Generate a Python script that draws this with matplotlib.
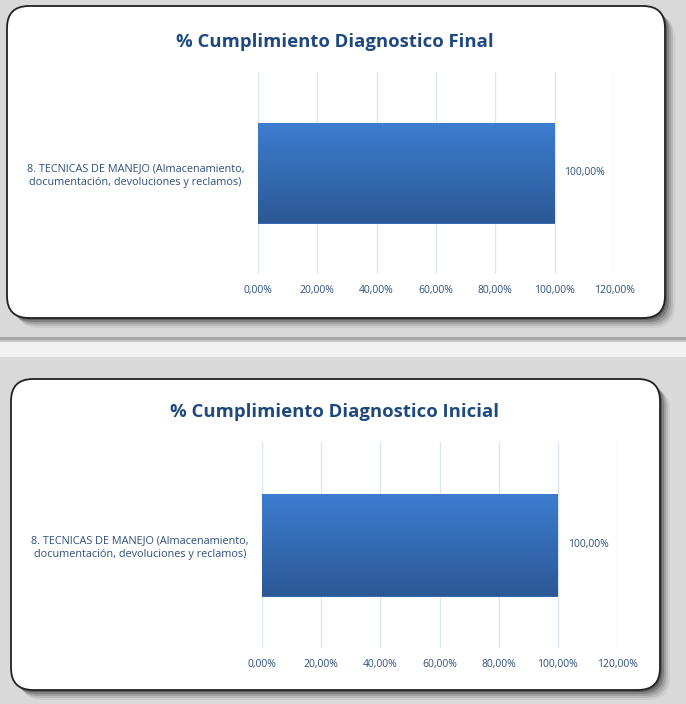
import matplotlib
matplotlib.use("Agg")
import matplotlib.pyplot as plt
import numpy as np
from matplotlib.patches import FancyBboxPatch, Rectangle
from matplotlib.colors import LinearSegmentedColormap

W, H = 686, 704

categories = ["8. TECNICAS DE MANEJO (Almacenamiento,\ndocumentación, devoluciones y reclamos)"]
final_values = [1.0]
initial_values = [1.0]
value_labels_final = ["100,00%"]
value_labels_initial = ["100,00%"]
titles = ["% Cumplimiento Diagnostico Final", "% Cumplimiento Diagnostico Inicial"]
xticks = [0.0, 0.2, 0.4, 0.6, 0.8, 1.0, 1.2]
xtick_labels = ["0,00%", "20,00%", "40,00%", "60,00%", "80,00%", "100,00%", "120,00%"]

TXT = "#2f4f7f"
TITLE_C = "#1f497d"
GRID_C = "#dce6f2"

fig = plt.figure(figsize=(W / 100, H / 100), dpi=100)
fig.patch.set_facecolor("#f1f1f1")
T = fig.dpi_scale_trans


def rbox(x0, y0, x1, y1, r, **kw):
    # pixel coords, origin top-left
    p = FancyBboxPatch((x0 / 100, (H - y1) / 100), (x1 - x0) / 100, (y1 - y0) / 100,
                       boxstyle=f"round,pad=0,rounding_size={r/100}", transform=T, **kw)
    fig.patches.append(p)
    return p


# gray panels
rbox(-20, -20, 706, 342, 12, facecolor="#c4c4c4", edgecolor="none", zorder=0)
rbox(-20, -20, 706, 340, 12, facecolor="#a8a8a8", edgecolor="none", zorder=0)
rbox(-20, -20, 706, 337, 12, facecolor="#d9d9d9", edgecolor="none", zorder=0)
rbox(-20, 357, 706, 740, 12, facecolor="#d9d9d9", edgecolor="none", zorder=0)

# white chart boxes with shadows
for (x0, y0, x1, y1) in [(7, 6, 665, 318), (11, 379, 660, 690)]:
    for k, a in zip([10, 8, 6, 4, 2], [0.07, 0.12, 0.18, 0.28, 0.4]):
        rbox(x0 + k, y0 + k, x1 + k, y1 + k, 22, facecolor="#303030", edgecolor="none",
             alpha=a, zorder=1)
    rbox(x0, y0, x1, y1, 22, facecolor="white", edgecolor="#222222", linewidth=1.3, zorder=2)

cmap = LinearSegmentedColormap.from_list("barg", ["#3d7dd0", "#2c5896"])

panels = [
    dict(ax=(258, 72, 614, 274), title=titles[0], ty=42, vals=final_values,
         vlab=value_labels_final),
    dict(ax=(262, 442, 617, 648), title=titles[1], ty=412, vals=initial_values,
         vlab=value_labels_initial),
]

for pnl in panels:
    x0, y0, x1, y1 = pnl["ax"]
    ax = fig.add_axes([x0 / W, 1 - y1 / H, (x1 - x0) / W, (y1 - y0) / H], zorder=5)
    ax.set_facecolor("none")
    ax.set_xlim(0, 1.2)
    ax.set_ylim(-0.5, 0.5)
    for s in ax.spines.values():
        s.set_visible(False)
    ax.set_xticks(xticks)
    ax.set_xticklabels(xtick_labels, family="Open Sans", fontsize=7.5, color=TXT)
    ax.tick_params(axis="x", length=0, pad=8)
    ax.set_yticks([0])
    ax.set_yticklabels(categories, family="Open Sans", fontsize=7.8, color=TXT,
                       multialignment="center", linespacing=1.35)
    ax.tick_params(axis="y", length=0, pad=13)
    for lab in ax.get_yticklabels():
        lab.set_horizontalalignment("center")
        lab.set_x(-0.293)
    ax.grid(axis="x", color=GRID_C, linewidth=1.0)
    ax.set_axisbelow(True)

    bars = ax.barh([0], pnl["vals"], height=0.5, color="#3569b3", zorder=3)
    for b in bars:
        bx, by = b.get_x(), b.get_y()
        bw, bh = b.get_width(), b.get_height()
        grad = np.linspace(0, 1, 256).reshape(-1, 1)
        im = ax.imshow(grad, cmap=cmap, aspect="auto", extent=(bx, bx + bw, by, by + bh),
                       origin="upper", zorder=4, interpolation="bilinear")
        im.set_clip_path(b)
    ax.set_xlim(0, 1.2)
    ax.set_ylim(-0.5, 0.5)
    for v, lab in zip(pnl["vals"], pnl["vlab"]):
        ax.annotate(lab, (v, 0), xytext=(7, 0), textcoords="offset points",
                    va="center", ha="left", family="Open Sans", fontsize=7.5, color=TXT)

    fig.text(335 / W, 1 - pnl["ty"] / H, pnl["title"], ha="center", va="center",
             family="Open Sans", fontweight="bold", fontsize=13.3, color=TITLE_C, zorder=6)

fig.savefig("out.png", dpi=100, facecolor=fig.get_facecolor())
